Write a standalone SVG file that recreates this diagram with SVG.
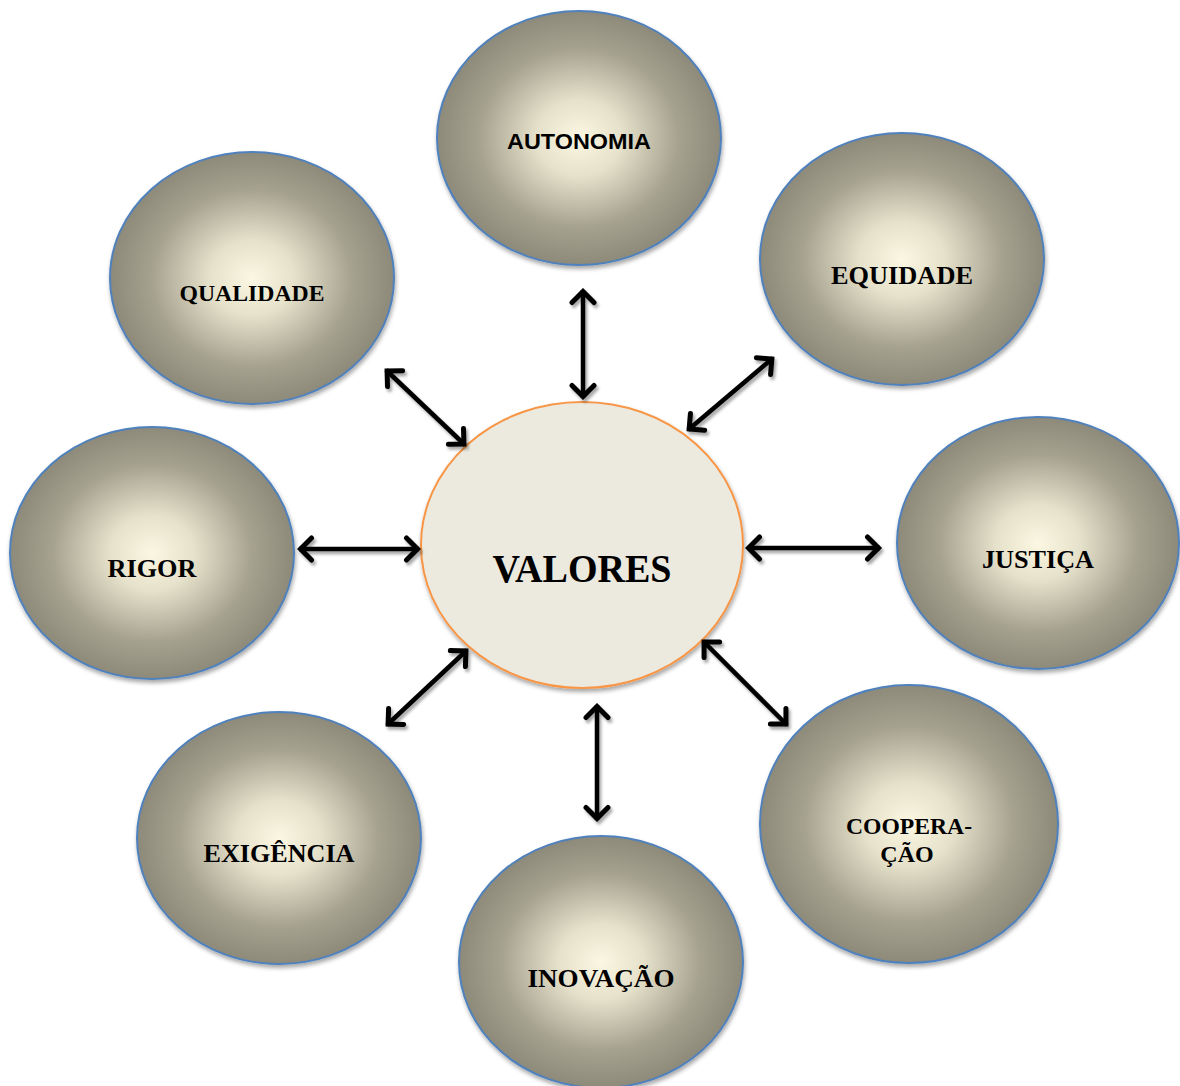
<svg xmlns="http://www.w3.org/2000/svg" width="1180" height="1086" viewBox="0 0 1180 1086">
<defs>
<radialGradient id="g" cx="50%" cy="50%" r="50%">
<stop offset="0" stop-color="#fbf7e2"/>
<stop offset="0.3" stop-color="#e6e1ca"/>
<stop offset="0.7" stop-color="#a6a290"/>
<stop offset="1" stop-color="#8e8a7a"/>
</radialGradient>
<filter id="sh" x="-20%" y="-20%" width="140%" height="140%">
<feDropShadow dx="1" dy="3" stdDeviation="2" flood-color="#000" flood-opacity="0.35"/>
</filter>
<filter id="ash" x="-30%" y="-30%" width="160%" height="160%">
<feDropShadow dx="2" dy="3" stdDeviation="1.5" flood-color="#000" flood-opacity="0.35"/>
</filter>
<marker id="ah" viewBox="-16 -14 20 28" refX="1.5" refY="0" markerWidth="20" markerHeight="28" markerUnits="userSpaceOnUse" orient="auto-start-reverse">
<path d="M-11,-11 L0,0 L-11,11" fill="none" stroke="#000" stroke-width="5" stroke-linecap="round" stroke-linejoin="miter"/>
</marker>
</defs>
<style>
.node{fill:url(#g);stroke:#4f81bd;stroke-width:2;filter:url(#sh)}
.ser{font-family:"Liberation Serif","Times New Roman",serif;font-weight:bold;font-size:25px;fill:#000;text-anchor:middle}
.san{font-family:"Liberation Sans",Arial,sans-serif;font-weight:bold;font-size:22px;fill:#000;text-anchor:middle}
.con line{stroke:#000;stroke-width:4.5;marker-start:url(#ah);marker-end:url(#ah)}
</style>
<rect width="1180" height="1086" fill="#fff"/>
<g id="autonomia"><ellipse class="node" cx="579" cy="138" rx="142" ry="127"/><text class="san" x="579" y="149" textLength="144" lengthAdjust="spacingAndGlyphs">AUTONOMIA</text></g>
<g id="equidade"><ellipse class="node" cx="902" cy="259" rx="142" ry="126"/><text class="ser" x="902" y="284" textLength="142" lengthAdjust="spacingAndGlyphs">EQUIDADE</text></g>
<g id="qualidade"><ellipse class="node" cx="252" cy="278" rx="142" ry="126"/><text class="ser" x="252" y="301" style="font-size:23px" textLength="145" lengthAdjust="spacingAndGlyphs">QUALIDADE</text></g>
<g id="rigor"><ellipse class="node" cx="152" cy="553" rx="142" ry="126"/><text class="ser" x="152" y="577" textLength="89" lengthAdjust="spacingAndGlyphs">RIGOR</text></g>
<g id="justica"><ellipse class="node" cx="1038" cy="543" rx="141" ry="126"/><text class="ser" x="1038" y="568" textLength="112" lengthAdjust="spacingAndGlyphs">JUSTIÇA</text></g>
<g id="exigencia"><ellipse class="node" cx="279" cy="838" rx="142" ry="126"/><text class="ser" x="279" y="862" textLength="151" lengthAdjust="spacingAndGlyphs">EXIGÊNCIA</text></g>
<g id="inovacao"><ellipse class="node" cx="601" cy="962" rx="142" ry="126"/><text class="ser" x="601" y="987" textLength="147" lengthAdjust="spacingAndGlyphs">INOVAÇÃO</text></g>
<g id="cooperacao"><ellipse class="node" cx="909" cy="824" rx="149" ry="139"/><text class="ser" x="909" y="834" style="font-size:24px" textLength="126" lengthAdjust="spacingAndGlyphs">COOPERA-</text><text class="ser" x="907" y="862" style="font-size:24px">ÇÃO</text></g>
<g id="valores"><ellipse cx="582" cy="545" rx="161" ry="143" fill="#ece9df" stroke="#f79646" stroke-width="2" filter="url(#sh)"/><text class="ser" x="582" y="582" style="font-size:39px" textLength="179" lengthAdjust="spacingAndGlyphs">VALORES</text></g>
<g id="connectors" class="con" filter="url(#ash)">
<line x1="583" y1="290" x2="583" y2="398"/>
<line x1="386" y1="370" x2="465" y2="445"/>
<line x1="773" y1="358" x2="688" y2="430"/>
<line x1="299" y1="549" x2="419" y2="549"/>
<line x1="747" y1="548" x2="880" y2="548"/>
<line x1="467" y1="650" x2="387" y2="725"/>
<line x1="597" y1="705" x2="597" y2="820"/>
<line x1="703" y1="641" x2="787" y2="725"/>
</g>
</svg>
